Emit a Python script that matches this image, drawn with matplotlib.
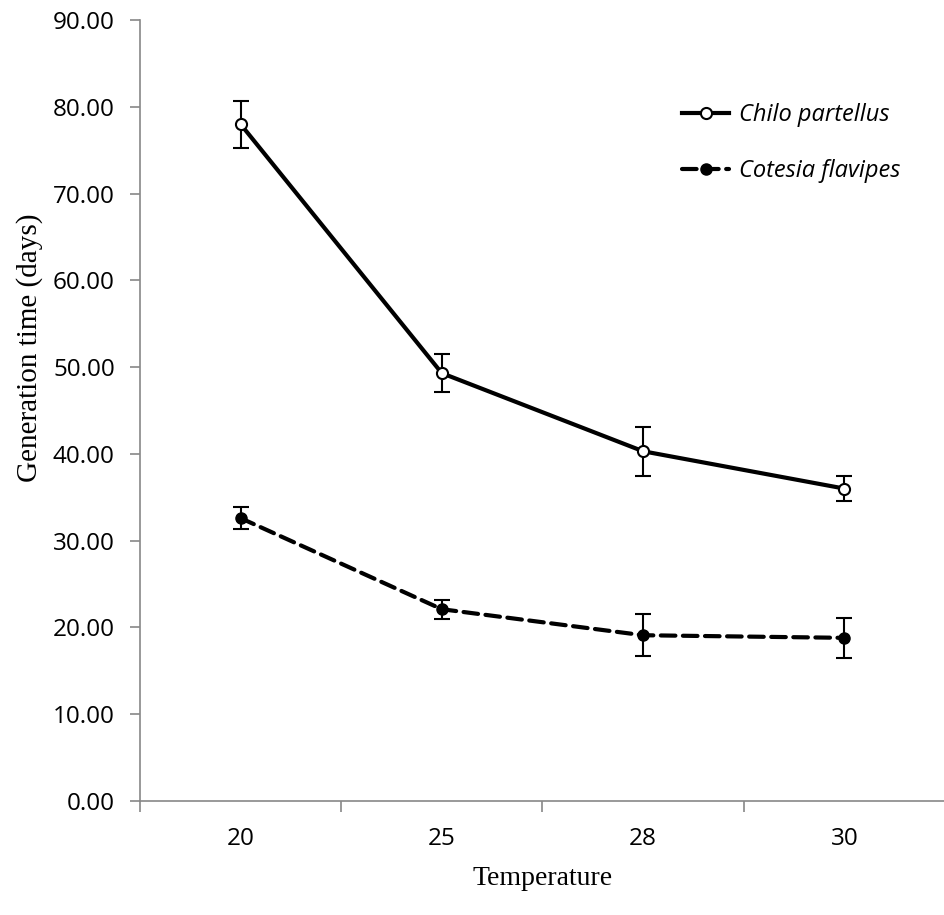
import matplotlib
matplotlib.use("Agg")
import matplotlib.pyplot as plt
from matplotlib.lines import Line2D

temps = ["20", "25", "28", "30"]
chilo = [78.0, 49.3, 40.3, 36.0]
chilo_err = [2.7, 2.2, 2.8, 1.4]
cotesia = [32.6, 22.1, 19.1, 18.8]
cotesia_err = [1.3, 1.1, 2.4, 2.3]
yticks = [0, 10, 20, 30, 40, 50, 60, 70, 80, 90]

fig = plt.figure(figsize=(9.45, 9.15), dpi=100)
ax = fig.add_axes([0.148, 0.1246, 0.852, 0.8536])

x = list(range(len(temps)))
dash = (3.5, 1.8)

ax.errorbar(x, chilo, yerr=chilo_err, color='black', lw=3, marker='o', ms=8,
            mfc='white', mec='black', mew=1.5, ecolor='black', elinewidth=1.5,
            capsize=6, capthick=1.5, zorder=3)
ax.errorbar(x, cotesia, yerr=cotesia_err, color='black', lw=3, marker='o', ms=8,
            mfc='black', mec='black', ecolor='black', elinewidth=1.5,
            capsize=6, capthick=1.5, dashes=dash, dash_capstyle='round', zorder=3)

ax.set_xlim(-0.5, 3.5)
ax.set_ylim(0, 90)
ax.set_yticks(yticks)
ax.set_yticklabels([f"{v:.2f}" for v in yticks], fontfamily='Open Sans', fontsize=17.5)
ax.set_xticks(x)
ax.set_xticklabels(temps, fontfamily='Open Sans', fontsize=17.5)
ax.set_xticks([-0.5, 0.5, 1.5, 2.5, 3.5], minor=True)
ax.tick_params(axis='x', which='major', length=0, pad=19)
ax.tick_params(axis='x', which='minor', length=8, color='#888888', width=1.2)
ax.tick_params(axis='y', length=7, color='#888888', width=1.2, pad=11)

for s in ['top', 'right']:
    ax.spines[s].set_visible(False)
for s in ['left', 'bottom']:
    ax.spines[s].set_color('#888888')
    ax.spines[s].set_linewidth(1.2)

ax.set_xlabel("Temperature", fontfamily='Liberation Serif', fontsize=20)
ax.xaxis.set_label_coords(0.5, -0.083)
ax.set_ylabel("Generation time (days)", fontfamily='Liberation Serif', fontsize=21)
ax.yaxis.set_label_coords(-0.12, 0.58)

handles = [
    Line2D([], [], color='black', lw=3, marker='o', ms=8, mfc='white', mec='black', mew=1.5),
    Line2D([], [], color='black', lw=3, marker='o', ms=8, mfc='black', mec='black',
           dashes=dash, dash_capstyle='round'),
]
ax.legend(handles, ['Chilo partellus', 'Cotesia flavipes'], loc='upper left',
          bbox_to_anchor=(0.647, 0.921), frameon=False,
          prop={'family': 'Open Sans', 'style': 'italic', 'size': 17},
          handlelength=2.0, labelspacing=1.35, handletextpad=0.4)

fig.savefig("out.png", dpi=100, facecolor='white')
